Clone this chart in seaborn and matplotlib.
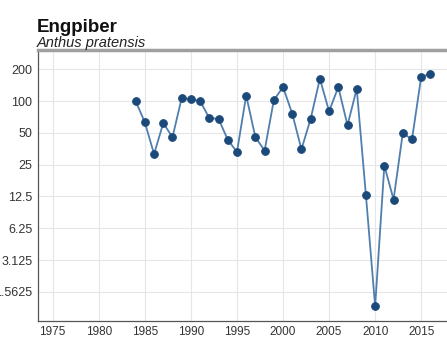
import matplotlib
matplotlib.use("Agg")
import matplotlib.pyplot as plt
from matplotlib.ticker import FixedLocator, FixedFormatter, NullLocator
import seaborn as sns
import pandas as pd

# Engpiber (Anthus pratensis) index values, log2 scale
years = list(range(1984, 2017))
index = [100, 63, 31.5, 62, 45.5, 107, 104, 100, 69, 68, 43, 33, 113, 45.5, 34,
         102, 136, 76, 35, 68, 163, 80, 136, 59, 131, 12.8, 1.14, 24.5, 11.7,
         49.8, 43.5, 170, 180]
y_ticks = [1.5625, 3.125, 6.25, 12.5, 25, 50, 100, 200]
y_labels = ["1.5625", "3.125", "6.25", "12.5", "25", "50", "100", "200"]
x_ticks = [1975, 1980, 1985, 1990, 1995, 2000, 2005, 2010, 2015]

df = pd.DataFrame({"year": years, "index": index})

sns.set_style("whitegrid", {"grid.color": "#e6e6e6"})
plt.rcParams["font.family"] = ["Liberation Sans", "DejaVu Sans"]
fig = plt.figure(figsize=(4.47, 3.41), dpi=100)
ax = fig.add_axes([0.085, 0.059, 0.915, 0.794])

sns.lineplot(data=df, x="year", y="index", ax=ax, color="#4f7fae", linewidth=1.3,
             marker="o", markersize=5.5, markerfacecolor="#1b4a7a",
             markeredgecolor="#1b4a7a")

ax.set_yscale("log", base=2)
ax.set_ylim(0.83, 304)
ax.set_xlim(1973.4, 2017.8)
ax.yaxis.set_major_locator(FixedLocator(y_ticks))
ax.yaxis.set_major_formatter(FixedFormatter(y_labels))
ax.yaxis.set_minor_locator(NullLocator())
ax.set_xticks(x_ticks)
ax.set_xlabel("")
ax.set_ylabel("")
ax.tick_params(axis="y", labelsize=9, colors="#333333", length=0, pad=4)
ax.tick_params(axis="x", labelsize=8.5, colors="#333333", length=2.5,
               pad=1.5, color="#555555")

ax.spines["right"].set_visible(False)
ax.spines["left"].set_color("#555555")
ax.spines["left"].set_linewidth(0.9)
ax.spines["bottom"].set_color("#555555")
ax.spines["bottom"].set_linewidth(0.9)
ax.spines["top"].set_color("#a0a0a0")
ax.spines["top"].set_linewidth(2.5)

fig.text(0.083, 0.905, "Engpiber", fontsize=13.5, fontweight="bold", color="#111111")
fig.text(0.083, 0.862, "Anthus pratensis", fontsize=10.5, style="italic", color="#222222")

fig.savefig("out.png", dpi=100)
